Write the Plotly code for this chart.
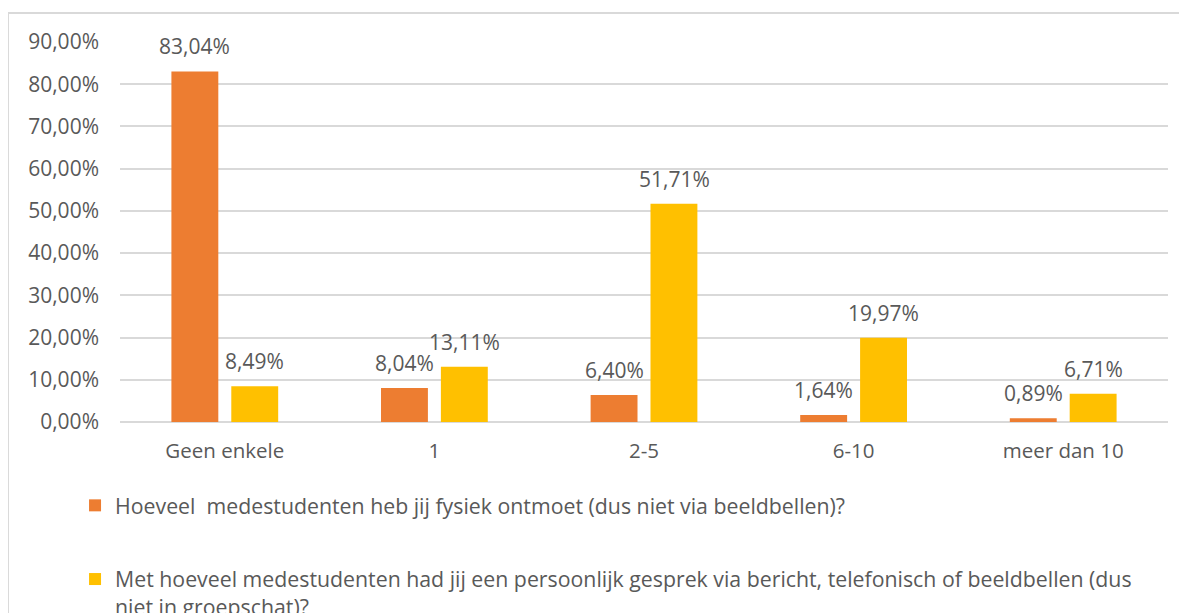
import plotly.graph_objects as go

categories = ["Geen enkele", "1", "2-5", "6-10", "meer dan 10"]
series1_name = "Hoeveel  medestudenten heb jij fysiek ontmoet (dus niet via beeldbellen)?"
series2_name = "Met hoeveel medestudenten had jij een persoonlijk gesprek via bericht, telefonisch of beeldbellen (dus<br>niet in groepschat)?"
series1_values = [83.04, 8.04, 6.40, 1.64, 0.89]
series2_values = [8.49, 13.11, 51.71, 19.97, 6.71]
tick_values = [0, 10, 20, 30, 40, 50, 60, 70, 80, 90]


def fmt(v):
    return f"{v:.2f}".replace(".", ",") + "%"


tick_labels = [fmt(v) for v in tick_values]

FONT = "Open Sans"
TXT = "#595959"
NUM_SIZE = 21
TXT_SIZE = 20.5
LEG_SIZE = 21.3

fig = go.Figure()
fig.add_trace(go.Bar(
    x=categories, y=series1_values, name=series1_name,
    marker=dict(color="#ED7D31", line=dict(width=0)),
    legendgroup="a",
))
fig.add_trace(go.Bar(
    x=categories, y=series2_values, name=series2_name,
    marker=dict(color="#FFC000", line=dict(width=0)),
    legendgroup="b",
))

annotations = []
for vals, dx in ((series1_values, -30), (series2_values, 30)):
    for c, v in zip(categories, vals):
        annotations.append(dict(
            x=c, y=v, xref="x", yref="y", text=fmt(v), showarrow=False,
            xshift=dx, yshift=25, yanchor="middle", xanchor="center",
            font=dict(family=FONT, size=NUM_SIZE, color=TXT),
        ))

fig.update_layout(
    width=1179, height=605,
    margin=dict(l=112, r=19, t=34, b=191, autoexpand=False),
    paper_bgcolor="white", plot_bgcolor="white",
    font=dict(family=FONT, size=NUM_SIZE, color=TXT),
    barmode="group", bargap=0.4286, bargroupgap=0.2167,
    showlegend=True,
    legend=dict(
        x=-0.0429, xanchor="left", y=-0.1658, yanchor="top",
        orientation="v", traceorder="grouped", tracegroupgap=43,
        valign="top", font=dict(family=FONT, size=LEG_SIZE, color=TXT),
        bgcolor="rgba(0,0,0,0)",
    ),
    xaxis=dict(
        showgrid=False, showline=False, ticks="", ticklabelstandoff=14,
        tickfont=dict(family=FONT, size=TXT_SIZE, color=TXT),
    ),
    yaxis=dict(
        range=[0, 90], tickvals=tick_values, ticktext=tick_labels,
        showgrid=True, gridcolor="#D9D9D9", gridwidth=1.5,
        zeroline=True, zerolinecolor="#D9D9D9", zerolinewidth=1.5,
        showline=False, ticks="", ticklabelstandoff=20,
        tickfont=dict(family=FONT, size=NUM_SIZE, color=TXT),
    ),
    annotations=annotations,
    shapes=[dict(
        type="rect", xref="paper", yref="paper",
        x0=-0.1069, x1=1.2, y0=-0.8, y1=1.0763,
        line=dict(color="#D9D9D9", width=2), fillcolor="rgba(0,0,0,0)",
        layer="below",
    )],
)

fig.write_html("out.html")
